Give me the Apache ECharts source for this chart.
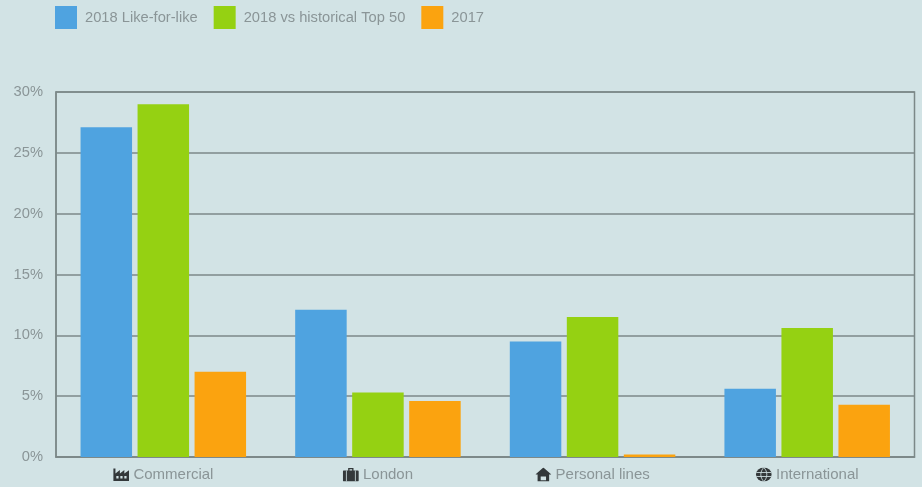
<!DOCTYPE html>
<html>
<head>
<meta charset="utf-8">
<style>html,body{margin:0;padding:0;background:#d2e3e5;}#chart{width:922px;height:487px;}</style>
<script src="https://cdn.jsdelivr.net/npm/echarts@6/dist/echarts.min.js"></script>
</head>
<body>
<div id="chart"></div>
<script>
// Share of claims by business line
const categories = ['Commercial', 'London', 'Personal lines', 'International'];
const likeForLike2018 = [27.1, 12.1, 9.5, 5.6];
const historicalTop50 = [29, 5.3, 11.5, 10.6];
const year2017 = [7, 4.6, 0.2, 4.3];
const yTicks = ['0%', '5%', '10%', '15%', '20%', '25%', '30%'];

// Small line-of-business pictograms placed before each axis label
const svg = body => 'data:image/svg+xml;utf8,' + encodeURIComponent(
  '<svg xmlns="http://www.w3.org/2000/svg" width="32" height="28" viewBox="0 0 18 14" preserveAspectRatio="none" fill="#33383a">' + body + '</svg>');
const icons = {
  factory: svg('<path d="M0 1h2.500v5l5-3.500v3.500l5-3.500v3.500l5.500-3.500v11H0z"/><path fill="#d2e3e5" d="M3.500 8.500h2.500v2.500H3.500zM8 8.500h2.500v2.500H8zM12.500 8.500h2.500v2.500h-2.500z"/>'),
  case: svg('<path d="M6 3V.5h6V3h5a1 1 0 0 1 1 1v9a1 1 0 0 1-1 1H1a1 1 0 0 1-1-1V4a1 1 0 0 1 1-1zM7.500 3h3V1.800h-3z"/><path fill="#d2e3e5" d="M3.500 3h.9v11h-.9zM13.600 3h.9v11h-.9z"/>'),
  home: svg('<path d="M9 0l9 7h-2.500v7h-13V7H0zM6 9v3.800h6V9z"/>'),
  globe: svg('<ellipse cx="9" cy="7" rx="8.800" ry="7"/><path fill="none" stroke="#d2e3e5" stroke-width=".9" d="M.5 5h17M.5 9h17M9 0c-4.500 4-4.500 10 0 14M9 0c4.500 4 4.500 10 0 14"/>')
};
const iconKeys = ['factory', 'case', 'home', 'globe'];
const iconRich = {};
iconKeys.forEach(k => {
  iconRich[k] = { width: 16, height: 14, backgroundColor: { image: icons[k] } };
});

const textColor = '#8a9597';
const lineColor = '#7c8888';

const barSeries = (name, data, color) => ({
  name, type: 'bar', data, barWidth: 51.500, barGap: '10.700%',
  itemStyle: { color }
});

echarts.init(document.getElementById('chart'), null, { renderer: 'canvas' }).setOption({
  animation: false,
  backgroundColor: '#d2e3e5',
  textStyle: { fontFamily: 'Liberation Sans, Arial, sans-serif' },
  legend: {
    left: 50, top: 1, itemWidth: 22, itemHeight: 23, itemGap: 16,
    icon: 'rect',
    textStyle: { color: textColor, fontSize: 14.700, padding: [2, 0, 0, 3] },
    data: ['2018 Like-for-like', '2018 vs historical Top 50', '2017']
  },
  grid: {
    show: true, borderColor: lineColor, borderWidth: 1.500,
    left: 56, right: 7.500, top: 92, bottom: 30
  },
  xAxis: {
    type: 'category',
    data: categories,
    axisTick: { show: false },
    axisLine: { lineStyle: { color: lineColor, width: 1.500 } },
    axisLabel: {
      interval: 0,
      margin: 10,
      color: textColor,
      fontSize: 15,
      formatter: (v, i) => '{' + iconKeys[i] + '|}{txt| ' + v + '}',
      rich: Object.assign({ txt: { color: textColor, fontSize: 15 } }, iconRich)
    }
  },
  yAxis: {
    type: 'value', min: 0, max: 30, interval: 5,
    axisLine: { show: true, lineStyle: { color: lineColor, width: 1.500 } },
    axisTick: { show: false },
    splitLine: { lineStyle: { color: lineColor, width: 1.500 } },
    axisLabel: {
      margin: 13, color: textColor, fontSize: 14.700,
      verticalAlignMaxLabel: 'middle',
      formatter: v => yTicks[v / 5]
    }
  },
  series: [
    barSeries('2018 Like-for-like', likeForLike2018, '#4fa3e0'),
    barSeries('2018 vs historical Top 50', historicalTop50, '#95d112'),
    barSeries('2017', year2017, '#fba30f')
  ]
});
</script>
</body>
</html>
